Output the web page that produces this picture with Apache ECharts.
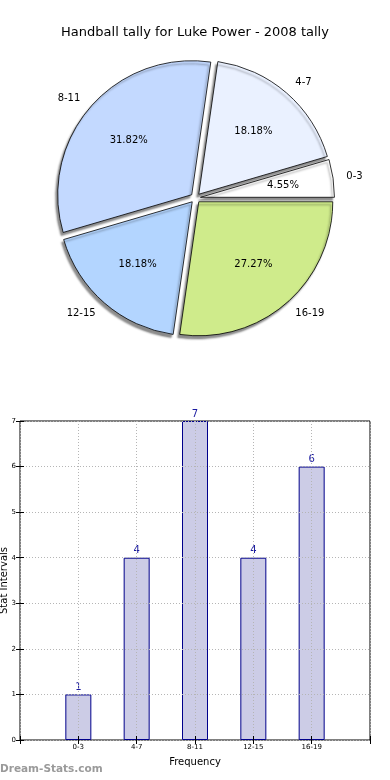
<!DOCTYPE html>
<html>
<head>
<meta charset="utf-8">
<script src="https://cdn.jsdelivr.net/npm/echarts@6/dist/echarts.min.js"></script>
<style>
html,body{margin:0;padding:0;background:#fff;}
#c{width:390px;height:780px;}
</style>
</head>
<body>
<div id="c"></div>
<script>
const titleText = 'Handball tally for Luke Power - 2008 tally';
const categories = ['0-3', '4-7', '8-11', '12-15', '16-19'];
const values = [1, 4, 7, 4, 6];
const pieColors = ['#ffffff', '#eaf1ff', '#c3d9ff', '#b3d5ff', '#cfeb8b'];
const yTicks = [0, 1, 2, 3, 4, 5, 6, 7];
const xAxisName = 'Frequency';
const yAxisName = 'Stat Intervals';
const watermark = 'Dream-Stats.com';

const total = values.reduce((a, b) => a + b, 0);
const FONT = 'DejaVu Sans';
const R = 134;
const CX = 195.5, CY = 198;
const OFFSET = 5;

const pieData = categories.map((c, i) => ({
  name: c, value: values[i], selected: true,
  itemStyle: { color: pieColors[i] }
}));
const pctData = categories.map((c, i) => ({
  name: c, value: values[i], selected: true
}));
const barData = values.map((v, i) => [i + 1, v]);

const chart = echarts.init(document.getElementById('c'), null, { renderer: 'canvas' });
chart.setOption({
  animation: false,
  backgroundColor: '#fff',
  title: {
    text: titleText, left: 'center', top: 21,
    textStyle: { fontFamily: FONT, fontSize: 13, fontWeight: 'normal', color: '#000' }
  },
  graphic: [{
    type: 'text', left: 0, top: 764,
    style: { text: watermark, fontFamily: FONT, fontSize: 10.5, fontWeight: 'bold', fill: '#9a9a9a' }
  }],
  grid: {
    left: 20, right: 20, top: 421, bottom: 40,
    containLabel: false, outerBoundsMode: 'none',
    show: true, borderColor: '#000', borderWidth: 1, backgroundColor: 'transparent'
  },
  xAxis: [{
    type: 'value', min: 0, max: 6, interval: 1, z: 3,
    name: xAxisName, nameLocation: 'middle', nameGap: 17, nameMoveOverlap: false,
    nameTextStyle: { fontFamily: FONT, fontSize: 10, color: '#000' },
    axisLine: { show: false },
    axisTick: { show: true, inside: true, length: 4, lineStyle: { color: '#000' } },
    axisLabel: {
      fontFamily: FONT, fontSize: 7, color: '#000', margin: 4,
      formatter: v => (v >= 1 && v <= categories.length) ? categories[v - 1] : ''
    },
    splitLine: { show: true, lineStyle: { type: [1, 2], color: '#b5b5b5', width: 1 } }
  }, {
    type: 'value', position: 'top', min: 0, max: 6, interval: 1, z: 3,
    axisLine: { show: false },
    axisTick: { show: true, inside: true, length: 4, lineStyle: { color: '#000' } },
    axisLabel: { show: false }, splitLine: { show: false }
  }],
  yAxis: [{
    type: 'value', min: yTicks[0], max: yTicks[yTicks.length - 1], interval: 1, z: 3,
    name: yAxisName, nameLocation: 'middle', nameGap: 11, nameRotate: 90, nameMoveOverlap: false,
    nameTextStyle: { fontFamily: FONT, fontSize: 10, color: '#000' },
    axisLine: { show: false },
    axisTick: { show: true, inside: true, length: 4, lineStyle: { color: '#000' } },
    axisLabel: { fontFamily: FONT, fontSize: 7, color: '#000', margin: 4 },
    splitLine: { show: true, lineStyle: { type: [1, 2], color: '#b5b5b5', width: 1 } }
  }, {
    type: 'value', position: 'right', min: 0, max: 7, interval: 1, z: 3,
    axisLine: { show: false },
    axisTick: { show: true, inside: true, length: 4, lineStyle: { color: '#000' } },
    axisLabel: { show: false }, splitLine: { show: false }
  }],
  series: [{
    type: 'pie',
    center: [CX, CY], radius: [0, R],
    startAngle: 0, clockwise: false,
    selectedMode: 'multiple', selectedOffset: OFFSET,
    avoidLabelOverlap: false,
    data: pieData,
    itemStyle: {
      borderColor: '#000', borderWidth: 0.8,
      shadowColor: 'rgba(0,0,0,0.45)', shadowBlur: 2, shadowOffsetX: -2, shadowOffsetY: 3
    },
    label: {
      show: true, position: 'outside', formatter: '{b}',
      fontFamily: FONT, fontSize: 10, color: '#000', distanceToLabelLine: 0
    },
    labelLine: { show: false, length: R * 0.1, length2: 0 },
    emphasis: { disabled: true },
    select: { itemStyle: { borderColor: '#000', borderWidth: 0.8 } },
    silent: true
  }, {
    type: 'pie',
    center: [CX, CY], radius: [0, R * 1.2],
    startAngle: 0, clockwise: false,
    selectedMode: 'multiple', selectedOffset: OFFSET,
    avoidLabelOverlap: false,
    data: pctData,
    z: 5,
    itemStyle: { color: 'rgba(0,0,0,0)', borderWidth: 0 },
    label: {
      show: true, position: 'inside',
      formatter: p => (p.value / total * 100).toFixed(2) + '%',
      fontFamily: FONT, fontSize: 10, color: '#000'
    },
    labelLine: { show: false },
    emphasis: { disabled: true },
    select: { itemStyle: { color: 'rgba(0,0,0,0)', borderWidth: 0 } },
    silent: true
  }, {
    type: 'bar',
    xAxisIndex: 0, yAxisIndex: 0,
    data: barData,
    barWidth: 26,
    itemStyle: { color: '#ccccE6', borderColor: '#00008B', borderWidth: 1 },
    label: {
      show: true, position: 'top', distance: 2,
      fontFamily: FONT, fontSize: 10, color: '#1a1aa0',
      formatter: p => String(p.value[1])
    },
    emphasis: { disabled: true },
    silent: true
  }]
});
</script>
</body>
</html>
